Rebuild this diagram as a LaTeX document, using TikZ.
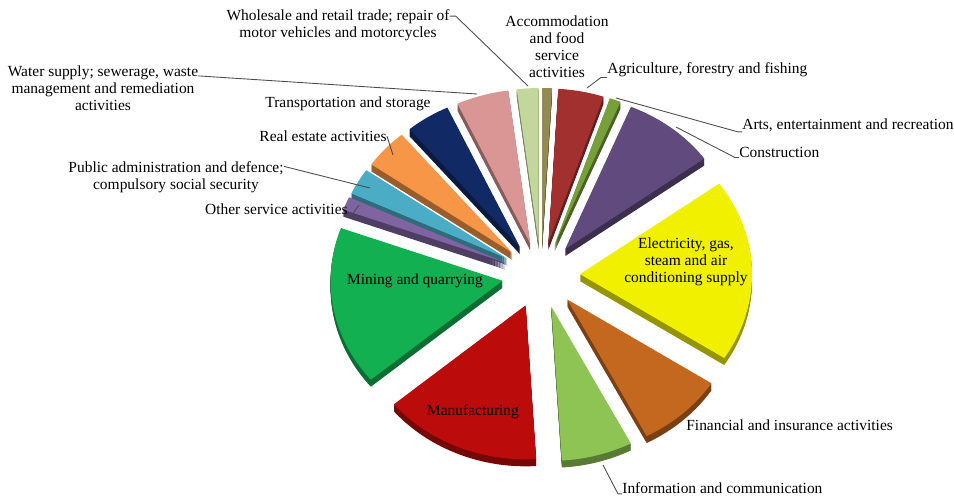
\documentclass[tikz,border=0pt]{standalone}
\usepackage{fontspec}
\setmainfont{Liberation Serif}

% slice colours
\definecolor{cAccom}{HTML}{948A54}
\definecolor{cAgri}{HTML}{A2302E}
\definecolor{cArts}{HTML}{77A03A}
\definecolor{cConstr}{HTML}{604A7E}
\definecolor{cElec}{HTML}{F0F000}
\definecolor{cFin}{HTML}{C4681F}
\definecolor{cInfo}{HTML}{8EC454}
\definecolor{cManuf}{HTML}{BC0B0B}
\definecolor{cMining}{HTML}{12B050}
\definecolor{cOther}{HTML}{8064A2}
\definecolor{cPublic}{HTML}{4BACC6}
\definecolor{cReal}{HTML}{F79646}
\definecolor{cTransp}{HTML}{112A66}
\definecolor{cWater}{HTML}{D99694}
\definecolor{cWhole}{HTML}{C3D69B}

% pie geometry (pixels): centre, radii, explode
\def\cx{541} \def\cy{275} \def\rx{172} \def\ry{154} \def\ex{39} \def\ey{33}

% one exploded slice, angles clockwise from the top
\newcommand{\pieslice}[3]{%
  \pgfmathsetmacro{\sliceMid}{(#1+#2)/2}
  \pgfmathsetmacro{\sliceX}{\cx+\ex*sin(\sliceMid)}
  \pgfmathsetmacro{\sliceY}{\cy-\ey*cos(\sliceMid)}
  \foreach \d in {7,6,...,1}
    \fill[fill=#3!62!black, shift={(0,\d)}] (\sliceX,\sliceY) -- plot[domain=#1:#2, samples=40] ({\sliceX+\rx*sin(\x)},{\sliceY-\ry*cos(\x)}) -- cycle;
  \fill[fill=#3] (\sliceX,\sliceY) -- plot[domain=#1:#2, samples=40] ({\sliceX+\rx*sin(\x)},{\sliceY-\ry*cos(\x)}) -- cycle;
}

\begin{document}
\begin{tikzpicture}[x=0.02cm, y=-0.02cm, line join=round]

        % Styles
        \tikzset{lbl/.style={font=\fontsize{8.8}{9.6}\selectfont, inner sep=0pt, align=center},
                 lead/.style={draw=black!70, line width=0.5pt}}

        \useasboundingbox (0,0) rectangle (954,495);

        % Slices, back to front
        \foreach \a/\b/\col in {0/3.3/cAccom, 352.7/360/cWhole, 3.3/18.7/cAgri, 335/352.7/cWater,
                                18.7/22.5/cArts, 320/335/cTransp, 305/320/cReal, 22.5/54/cConstr,
                                295/305/cPublic, 290/295/cOther, 230/290/cMining, 54/123/cElec,
                                123/152.5/cFin, 176.5/230/cManuf, 152.5/176.5/cInfo}
            \pieslice{\a}{\b}{\col};

        % Leader ends on the slices
        \coordinate (p-whole) at (528,86);
        \coordinate (p-water) at (477,94);
        \coordinate (p-agri) at (587,88);
        \coordinate (p-arts) at (616,98);
        \coordinate (p-constr) at (676,127);
        \coordinate (p-info) at (603,465);
        \coordinate (p-public) at (370,188);
        \coordinate (p-other) at (359,205);
        \coordinate (p-real) at (393,155);

        % Labels
        \node[lbl] (whole) at (338,25) {Wholesale and retail trade; repair of\\motor vehicles and motorcycles};
        \node[lbl] (accom) at (557,47) {Accommodation\\and food\\service\\activities};
        \node[lbl, anchor=west] (agri) at (607,70) {Agriculture, forestry and fishing};
        \node[lbl, anchor=west] (arts) at (742,125) {Arts, entertainment and recreation};
        \node[lbl, anchor=west] (constr) at (739,152) {Construction};
        \node[lbl] (elec) at (686,262) {Electricity, gas,\\steam and air\\conditioning supply};
        \node[lbl, anchor=west] (fin) at (686,425) {Financial and insurance activities};
        \node[lbl, anchor=west] (info) at (622,488) {Information and communication};
        \node[lbl] (manuf) at (473,412) {Manufacturing};
        \node[lbl] (mining) at (415,281) {Mining and quarrying};
        \node[lbl, anchor=east] (other) at (348,209) {Other service activities};
        \node[lbl] (public) at (176,177) {Public administration and defence;\\compulsory social security};
        \node[lbl] (real) at (323,136) {Real estate activities};
        \node[lbl] (transp) at (348,104) {Transportation and storage};
        \node[lbl] (water) at (103,88) {Water supply; sewerage, waste\\management and remediation\\activities};

        % Leader lines
        \draw[lead] ([yshift=-4pt]whole.north east) -- ++(6,0) -- (p-whole);
        \draw[lead] ([yshift=-6pt]water.north east) -- (p-water);
        \draw[lead] (agri.south west) -- ++(-6,0) -- (p-agri);
        \draw[lead] (arts.south west) -- ++(-4,0) -- (p-arts);
        \draw[lead] (constr.south west) -- ++(-4,0) -- (p-constr);
        \draw[lead] (info.south west) -- ++(-4,0) -- (p-info);
        \draw[lead] ([yshift=-3pt]public.north east) -- (p-public);
        \draw[lead] (other.south east) -- ++(4,0) -- (p-other);
        \draw[lead] (real.east) -- (p-real);

\end{tikzpicture}
\end{document}
